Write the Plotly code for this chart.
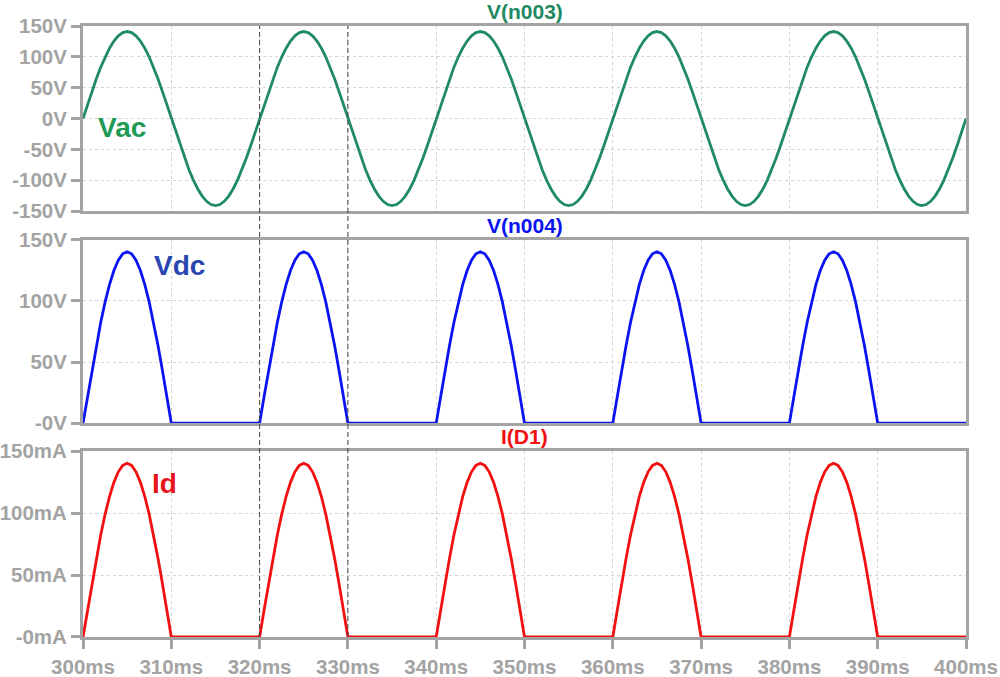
import numpy as np
import plotly.graph_objects as go

# time samples (ms)
time_ms = np.round(np.arange(300, 400.001, 0.5), 2)

# V(n003) in volts (0.5 ms steps)
vac = [
    0, 22.1, 43.6, 64.0, 82.9, 99.7, 114.1, 125.6, 134.1, 139.3, 141.0, 139.3, 134.1, 125.6, 114.1, 99.7, 82.9, 64.0, 43.6, 22.1,
    0, -22.1, -43.6, -64.0, -82.9, -99.7, -114.1, -125.6, -134.1, -139.3, -141.0, -139.3, -134.1, -125.6, -114.1, -99.7, -82.9, -64.0, -43.6, -22.1,
    0, 22.1, 43.6, 64.0, 82.9, 99.7, 114.1, 125.6, 134.1, 139.3, 141.0, 139.3, 134.1, 125.6, 114.1, 99.7, 82.9, 64.0, 43.6, 22.1,
    0, -22.1, -43.6, -64.0, -82.9, -99.7, -114.1, -125.6, -134.1, -139.3, -141.0, -139.3, -134.1, -125.6, -114.1, -99.7, -82.9, -64.0, -43.6, -22.1,
    0, 22.1, 43.6, 64.0, 82.9, 99.7, 114.1, 125.6, 134.1, 139.3, 141.0, 139.3, 134.1, 125.6, 114.1, 99.7, 82.9, 64.0, 43.6, 22.1,
    0, -22.1, -43.6, -64.0, -82.9, -99.7, -114.1, -125.6, -134.1, -139.3, -141.0, -139.3, -134.1, -125.6, -114.1, -99.7, -82.9, -64.0, -43.6, -22.1,
    0, 22.1, 43.6, 64.0, 82.9, 99.7, 114.1, 125.6, 134.1, 139.3, 141.0, 139.3, 134.1, 125.6, 114.1, 99.7, 82.9, 64.0, 43.6, 22.1,
    0, -22.1, -43.6, -64.0, -82.9, -99.7, -114.1, -125.6, -134.1, -139.3, -141.0, -139.3, -134.1, -125.6, -114.1, -99.7, -82.9, -64.0, -43.6, -22.1,
    0, 22.1, 43.6, 64.0, 82.9, 99.7, 114.1, 125.6, 134.1, 139.3, 141.0, 139.3, 134.1, 125.6, 114.1, 99.7, 82.9, 64.0, 43.6, 22.1,
    0, -22.1, -43.6, -64.0, -82.9, -99.7, -114.1, -125.6, -134.1, -139.3, -141.0, -139.3, -134.1, -125.6, -114.1, -99.7, -82.9, -64.0, -43.6, -22.1,
    0,
]

# V(n004) in volts
vdc = [
    0, 21.4, 42.9, 63.3, 82.2, 99.0, 113.4, 124.9, 133.4, 138.6, 140.3, 138.6, 133.4, 124.9, 113.4, 99.0, 82.2, 63.3, 42.9, 21.4,
    0, 0, 0, 0, 0, 0, 0, 0, 0, 0, 0, 0, 0, 0, 0, 0, 0, 0, 0, 0,
    0, 21.4, 42.9, 63.3, 82.2, 99.0, 113.4, 124.9, 133.4, 138.6, 140.3, 138.6, 133.4, 124.9, 113.4, 99.0, 82.2, 63.3, 42.9, 21.4,
    0, 0, 0, 0, 0, 0, 0, 0, 0, 0, 0, 0, 0, 0, 0, 0, 0, 0, 0, 0,
    0, 21.4, 42.9, 63.3, 82.2, 99.0, 113.4, 124.9, 133.4, 138.6, 140.3, 138.6, 133.4, 124.9, 113.4, 99.0, 82.2, 63.3, 42.9, 21.4,
    0, 0, 0, 0, 0, 0, 0, 0, 0, 0, 0, 0, 0, 0, 0, 0, 0, 0, 0, 0,
    0, 21.4, 42.9, 63.3, 82.2, 99.0, 113.4, 124.9, 133.4, 138.6, 140.3, 138.6, 133.4, 124.9, 113.4, 99.0, 82.2, 63.3, 42.9, 21.4,
    0, 0, 0, 0, 0, 0, 0, 0, 0, 0, 0, 0, 0, 0, 0, 0, 0, 0, 0, 0,
    0, 21.4, 42.9, 63.3, 82.2, 99.0, 113.4, 124.9, 133.4, 138.6, 140.3, 138.6, 133.4, 124.9, 113.4, 99.0, 82.2, 63.3, 42.9, 21.4,
    0, 0, 0, 0, 0, 0, 0, 0, 0, 0, 0, 0, 0, 0, 0, 0, 0, 0, 0, 0,
    0,
]

# I(D1) in mA
i_d = [
    0, 21.4, 42.9, 63.3, 82.2, 99.0, 113.4, 124.9, 133.4, 138.6, 140.3, 138.6, 133.4, 124.9, 113.4, 99.0, 82.2, 63.3, 42.9, 21.4,
    0, 0, 0, 0, 0, 0, 0, 0, 0, 0, 0, 0, 0, 0, 0, 0, 0, 0, 0, 0,
    0, 21.4, 42.9, 63.3, 82.2, 99.0, 113.4, 124.9, 133.4, 138.6, 140.3, 138.6, 133.4, 124.9, 113.4, 99.0, 82.2, 63.3, 42.9, 21.4,
    0, 0, 0, 0, 0, 0, 0, 0, 0, 0, 0, 0, 0, 0, 0, 0, 0, 0, 0, 0,
    0, 21.4, 42.9, 63.3, 82.2, 99.0, 113.4, 124.9, 133.4, 138.6, 140.3, 138.6, 133.4, 124.9, 113.4, 99.0, 82.2, 63.3, 42.9, 21.4,
    0, 0, 0, 0, 0, 0, 0, 0, 0, 0, 0, 0, 0, 0, 0, 0, 0, 0, 0, 0,
    0, 21.4, 42.9, 63.3, 82.2, 99.0, 113.4, 124.9, 133.4, 138.6, 140.3, 138.6, 133.4, 124.9, 113.4, 99.0, 82.2, 63.3, 42.9, 21.4,
    0, 0, 0, 0, 0, 0, 0, 0, 0, 0, 0, 0, 0, 0, 0, 0, 0, 0, 0, 0,
    0, 21.4, 42.9, 63.3, 82.2, 99.0, 113.4, 124.9, 133.4, 138.6, 140.3, 138.6, 133.4, 124.9, 113.4, 99.0, 82.2, 63.3, 42.9, 21.4,
    0, 0, 0, 0, 0, 0, 0, 0, 0, 0, 0, 0, 0, 0, 0, 0, 0, 0, 0, 0,
    0,
]

x_ticks = [300, 310, 320, 330, 340, 350, 360, 370, 380, 390, 400]
x_tick_labels = ["300ms", "310ms", "320ms", "330ms", "340ms", "350ms", "360ms", "370ms", "380ms", "390ms", "400ms"]
vac_ticks = [-150, -100, -50, 0, 50, 100, 150]
vac_tick_labels = ["-150V", "-100V", "-50V", "0V", "50V", "100V", "150V"]
vdc_ticks = [0, 50, 100, 150]
vdc_tick_labels = ["-0V", "50V", "100V", "150V"]
id_ticks = [0, 50, 100, 150]
id_tick_labels = ["-0mA", "50mA", "100mA", "150mA"]
cursor_times = [320, 330]

GRAY = "#a3a3a3"
GRID = "#d4d4d4"
FONT = "Liberation Sans, Arial, sans-serif"
TICKFONT = dict(family=FONT, size=20.5, color=GRAY, weight="bold")

fig = go.Figure()
fig.add_trace(go.Scatter(x=time_ms, y=vac, mode="lines", line=dict(color="#1f8a64", width=2.8), xaxis="x", yaxis="y", showlegend=False))
fig.add_trace(go.Scatter(x=time_ms, y=vdc, mode="lines", line=dict(color="#0a14f0", width=2.8), xaxis="x2", yaxis="y2", showlegend=False))
fig.add_trace(go.Scatter(x=time_ms, y=i_d, mode="lines", line=dict(color="#f21010", width=2.8), xaxis="x3", yaxis="y3", showlegend=False))

common_x = dict(range=[300, 400], tickvals=x_ticks, showgrid=True, gridcolor=GRID, griddash="dot", gridwidth=1,
                showline=True, linecolor=GRAY, linewidth=3, mirror=True, zeroline=False, fixedrange=True,
                automargin=False)
common_y = dict(showgrid=True, gridcolor=GRID, griddash="dot", gridwidth=1, showline=True, linecolor=GRAY,
                linewidth=3, mirror=True, zeroline=False, ticks="outside", ticklen=9, tickwidth=3, tickcolor=GRAY,
                tickfont=TICKFONT, ticklabelstandoff=0, automargin=False)

domains = [[0.697, 1.0], [0.350, 0.650], [0.0, 0.304]]

fig.update_layout(
    width=1000, height=677,
    margin=dict(l=83, r=34, t=26, b=40),
    paper_bgcolor="white", plot_bgcolor="white",
    font=dict(family=FONT),
    xaxis=dict(**common_x, anchor="y", domain=[0, 1], showticklabels=False, ticks=""),
    xaxis2=dict(**common_x, anchor="y2", domain=[0, 1], showticklabels=False, ticks="", matches="x"),
    xaxis3=dict(**common_x, anchor="y3", domain=[0, 1], ticktext=x_tick_labels, ticks="outside", ticklen=9,
                tickwidth=3, tickcolor=GRAY, tickfont=TICKFONT, matches="x"),
    yaxis=dict(**common_y, domain=domains[0], range=[-150, 150], tickvals=vac_ticks, ticktext=vac_tick_labels),
    yaxis2=dict(**common_y, domain=domains[1], range=[0, 150], tickvals=vdc_ticks, ticktext=vdc_tick_labels),
    yaxis3=dict(**common_y, domain=domains[2], range=[0, 150], tickvals=id_ticks, ticktext=id_tick_labels),
)

# cursors
for t in cursor_times:
    fig.add_shape(type="line", xref="x", yref="paper", x0=t, x1=t, y0=0, y1=1,
                  line=dict(color="#444444", width=1, dash="5px,3px"), layer="above")

# trace titles
titles = [("V(n003)", "#1f8a64", 1.0), ("V(n004)", "#0a14f0", domains[1][1]), ("I(D1)", "#f21010", domains[2][1])]
for txt, col, yy in titles:
    fig.add_annotation(text="<b>%s</b>" % txt, xref="paper", yref="paper", x=0.5, y=yy, yshift=1,
                       xanchor="center", yanchor="bottom", showarrow=False,
                       font=dict(family=FONT, size=21, color=col))

# in-plot labels
fig.add_annotation(text="<b>Vac</b>", xref="x", yref="y", x=301.5, y=-15, xanchor="left", yanchor="middle",
                   showarrow=False, font=dict(family=FONT, size=28, color="#1e9a55"))
fig.add_annotation(text="<b>Vdc</b>", xref="x2", yref="y2", x=307.8, y=129, xanchor="left", yanchor="middle",
                   showarrow=False, font=dict(family=FONT, size=28, color="#2a46b2"))
fig.add_annotation(text="<b>Id</b>", xref="x3", yref="y3", x=307.6, y=124, xanchor="left", yanchor="middle",
                   showarrow=False, font=dict(family=FONT, size=28, color="#e8141c"))

fig.write_html("out.html")
